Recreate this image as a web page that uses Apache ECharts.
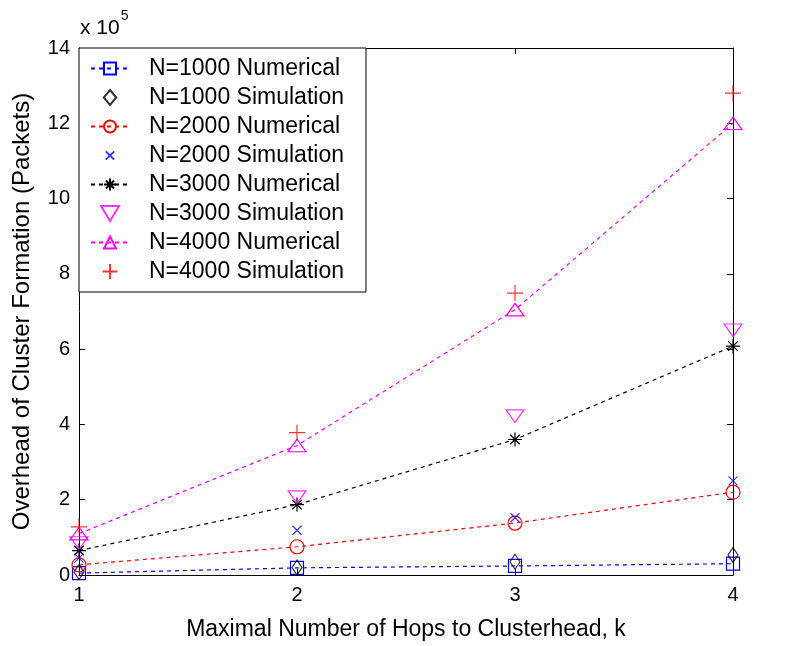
<!DOCTYPE html>
<html>
<head>
<meta charset="utf-8">
<script src="https://cdn.jsdelivr.net/npm/echarts@6/dist/echarts.min.js"></script>
<style>
  html, body { margin: 0; padding: 0; background: #fff; }
  #chart { width: 802px; height: 646px; }
</style>
</head>
<body>
<div id="chart"></div>
<script>
// Maximal number of hops to clusterhead
const hops = [1, 2, 3, 4];
// Overhead of cluster formation, in units of 1e5 packets
const n1000Numerical = [0.05, 0.19, 0.24, 0.30];
const n1000Simulation = [0.08, 0.20, 0.35, 0.53];
const n2000Numerical = [0.27, 0.75, 1.38, 2.20];
const n2000Simulation = [0.45, 1.19, 1.52, 2.50];
const n3000Numerical = [0.65, 1.87, 3.60, 6.08];
const n3000Simulation = [0.85, 2.07, 4.22, 6.50];
const n4000Numerical = [1.10, 3.44, 7.05, 12.00];
const n4000Simulation = [1.28, 3.78, 7.49, 12.80];
const yTicks = [0, 2, 4, 6, 8, 10, 12, 14];

const FONT = 'Liberation Sans, Arial, sans-serif';
const pairs = arr => hops.map((k, i) => [k, arr[i]]);

// Outline marker shapes
const SYM_X = 'path://M0,0L10,10M10,0L0,10';
const SYM_X_LEGEND = 'path://M-4,-4L-4,-4M0,0L10,10M10,0L0,10M14,14L14,14';
const SYM_STAR = 'path://M5,0L5,10M0,5L10,5M1.6,1.6L8.4,8.4M8.4,1.6L1.6,8.4';
const SYM_PLUS = 'path://M5,0L5,10M0,5L10,5';
const SYM_DIAMOND = 'path://M5,0L10,6L5,12L0,6Z';
const SYM_TRI_UP = 'path://M6,0L12,10L0,10Z';
const SYM_TRI_DOWN = 'path://M0,0L12,0L6,10Z';

function numerical(name, data, color, symbol, size) {
  return {
    name, type: 'line', data: pairs(data),
    symbol, symbolSize: size, symbolKeepAspect: true,
    showAllSymbol: true,
    lineStyle: { color, width: 1.2, type: [4, 4] },
    itemStyle: { color: 'rgba(0,0,0,0)', borderColor: color, borderWidth: 1.2 },
    emphasis: { disabled: true },
    z: 3
  };
}
function simulation(name, data, color, symbol, size) {
  return {
    name, type: 'scatter', data: pairs(data),
    symbol, symbolSize: size, symbolKeepAspect: true,
    itemStyle: { color: 'rgba(0,0,0,0)', borderColor: color, borderWidth: 1.2 },
    emphasis: { disabled: true },
    z: 4
  };
}

const series = [
  numerical('N=1000 Numerical', n1000Numerical, '#0000ff', 'rect', 13),
  simulation('N=1000 Simulation', n1000Simulation, '#000000', SYM_DIAMOND, [12, 15]),
  numerical('N=2000 Numerical', n2000Numerical, '#ff0000', 'circle', 14),
  simulation('N=2000 Simulation', n2000Simulation, '#0000ff', SYM_X, 9),
  numerical('N=3000 Numerical', n3000Numerical, '#000000', SYM_STAR, 14),
  simulation('N=3000 Simulation', n3000Simulation, '#ff00ff', SYM_TRI_DOWN, [18, 15]),
  numerical('N=4000 Numerical', n4000Numerical, '#ff00ff', SYM_TRI_UP, [18, 15]),
  simulation('N=4000 Simulation', n4000Simulation, '#ff0000', SYM_PLUS, 16)
];

const legendData = series.map(s =>
  s.symbol === SYM_X ? { name: s.name, icon: SYM_X_LEGEND } : { name: s.name });

const axisLine = { show: true, onZero: false, lineStyle: { color: '#000', width: 1 } };
const axisTick = { show: true, inside: true, length: 6, lineStyle: { color: '#000' } };

const chart = echarts.init(document.getElementById('chart'), null, { renderer: 'canvas' });
chart.setOption({
  animation: false,
  backgroundColor: '#fff',
  textStyle: { fontFamily: FONT },
  grid: { left: 79, right: 69, top: 48, bottom: 69, show: false },
  title: {
    text: '{a|x 10}{b|5}',
    left: 75, top: 4,
    textStyle: {
      fontWeight: 'normal',
      rich: {
        a: { fontFamily: FONT, fontSize: 21, fontWeight: 'normal', color: '#000', lineHeight: 30, verticalAlign: 'bottom' },
        b: { fontFamily: FONT, fontSize: 14, fontWeight: 'normal', color: '#000', lineHeight: 30, verticalAlign: 'top', padding: [0, 0, 0, 1] }
      }
    }
  },
  legend: {
    orient: 'vertical',
    left: 79, top: 48,
    padding: [9, 22, 9, 11],
    itemGap: 6,
    itemWidth: 38, itemHeight: 15,
    backgroundColor: '#fff',
    borderColor: '#000', borderWidth: 1,
    textStyle: { fontFamily: FONT, fontSize: 23, color: '#000', lineHeight: 23, padding: [0, 0, 0, 15] },
    selectedMode: false,
    data: legendData
  },
  xAxis: [
    {
      type: 'value', min: 1, max: 4, interval: 1,
      name: 'Maximal Number of Hops to Clusterhead, k',
      nameLocation: 'middle', nameGap: 43,
      nameTextStyle: { fontFamily: FONT, fontSize: 23, color: '#000' },
      axisLine, axisTick,
      axisLabel: { fontFamily: FONT, fontSize: 20, color: '#000', margin: 10 },
      splitLine: { show: false }
    },
    {
      type: 'value', position: 'top', min: 1, max: 4, interval: 1,
      axisLine, axisTick, axisLabel: { show: false }, splitLine: { show: false }
    }
  ],
  yAxis: [
    {
      type: 'value', min: yTicks[0], max: yTicks[yTicks.length - 1], interval: 2,
      name: 'Overhead of Cluster Formation (Packets)',
      nameLocation: 'middle', nameGap: 45, nameRotate: 90,
      nameTextStyle: { fontFamily: FONT, fontSize: 24, color: '#000' },
      axisLine, axisTick,
      axisLabel: { fontFamily: FONT, fontSize: 20, color: '#000', margin: 9 },
      splitLine: { show: false }
    },
    {
      type: 'value', position: 'right', min: yTicks[0], max: yTicks[yTicks.length - 1], interval: 2,
      axisLine, axisTick, axisLabel: { show: false }, splitLine: { show: false }
    }
  ],
  series
});
</script>
</body>
</html>
